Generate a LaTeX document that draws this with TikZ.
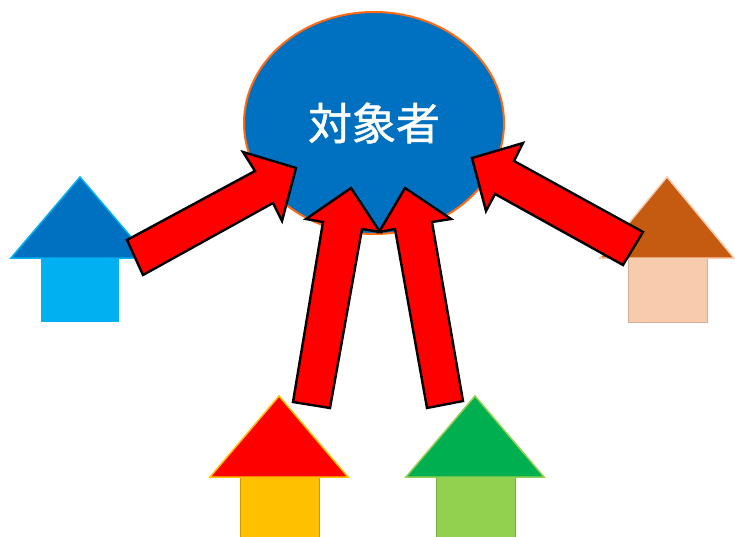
\documentclass[tikz,border=0pt]{standalone}
\usepackage{fontspec}
\newfontfamily\cjk[BoldFont={Noto Sans CJK JP},BoldFeatures={FakeBold=1.2}]{Noto Sans CJK JP}
\usetikzlibrary{shapes.geometric}
\definecolor{dblue}{HTML}{0070C0}
\definecolor{lblue}{HTML}{00B0F0}
\definecolor{brownc}{HTML}{C55A11}
\definecolor{peach}{HTML}{F8CBAD}
\definecolor{peachline}{HTML}{D8AE94}
\definecolor{redc}{HTML}{FF0000}
\definecolor{yellowc}{HTML}{FFC000}
\definecolor{greenc}{HTML}{00B050}
\definecolor{lgreen}{HTML}{92D050}
\definecolor{orangec}{HTML}{FF6A13}
\tikzset{
  roof/.style={line width=1.5pt, line join=miter},
  wall/.style={line width=0.6pt},
  bigarrow/.style={fill=redc, draw=black, line width=2.4pt, line join=miter},
}
\begin{document}
\begin{tikzpicture}[x=1pt,y=-1pt]
\useasboundingbox (0,0) rectangle (735,537);
% houses
\fill[lblue] (41,258) rectangle (119,322);
\draw[roof, draw=lblue, fill=dblue] (11,258) -- (80,177) -- (149,258) -- cycle;
\draw[wall, draw=peachline, fill=peach] (628,258) rectangle (707,322);
\draw[roof, draw=peach, fill=brownc] (600,258) -- (667,177) -- (734,258) -- cycle;
\draw[wall, draw=yellowc!80!black, fill=yellowc] (240,477) rectangle (319,540);
\draw[roof, draw=yellowc, fill=redc] (210,477) -- (279,396) -- (348,477) -- cycle;
\draw[wall, draw=lgreen!80!black, fill=lgreen] (436,477) rectangle (515,540);
\draw[roof, draw=lgreen, fill=greenc] (406,477) -- (475,396) -- (544,477) -- cycle;
% target ellipse
\node[ellipse, fill=dblue, draw=orangec, line width=2pt, minimum width=260pt, minimum height=222pt, inner sep=0pt, text=white, font=\cjk\bfseries\fontsize{44}{48}\selectfont] (target) at (374,123) {対象者};
% arrows
\draw[bigarrow] (143,275) -- (127,240) -- (255,171) -- (243,152) -- (296,168) -- (282,221) -- (273,203) -- cycle;
\draw[bigarrow] (293,402) -- (323,222) -- (306,219) -- (351,188) -- (380,232) -- (362,229) -- (330,408) -- cycle;
\draw[bigarrow] (427,408) -- (395,229) -- (379,232) -- (405,188) -- (451,219) -- (432,222) -- (463,401) -- cycle;
\draw[bigarrow] (623,265) -- (643,232) -- (514,161) -- (523,143) -- (472,158) -- (486,211) -- (495,194) -- cycle;
\end{tikzpicture}
\end{document}
